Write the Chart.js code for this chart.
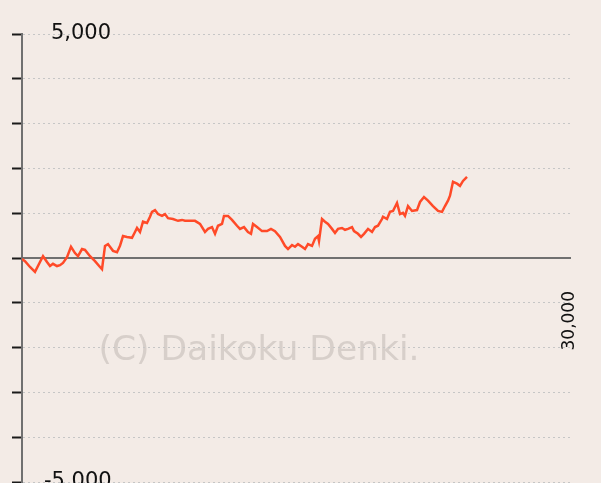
<!DOCTYPE html>
<html><head><meta charset="utf-8">
<script src="https://cdn.jsdelivr.net/npm/chart.js@4"></script>
<style>html,body{margin:0;padding:0;background:#f3ebe6;overflow:hidden;}</style>
</head><body>
<canvas id="c" width="601" height="483"></canvas>
<script>
const spins = [0,164,438,712,985,1150,1369,1533,1697,1916,2080,2245,2464,2682,2901,3066,3285,3449,3723,3996,4270,4380,4544,4708,4982,5201,5365,5529,5748,6022,6186,6296,6460,6624,6843,7007,7117,7281,7445,7664,7828,7993,8266,8540,8759,8923,9197,9471,9745,10018,10183,10401,10566,10730,10949,11058,11277,11496,11770,11934,12153,12372,12536,12646,12865,13139,13412,13631,13850,14124,14398,14562,14781,14945,15110,15328,15493,15657,15876,16040,16204,16259,16423,16588,16752,16971,17135,17299,17518,17683,17847,18066,18175,18394,18559,18723,18942,19161,19325,19489,19708,19763,19982,20146,20310,20529,20694,20858,20967,21132,21351,21624,21789,22007,22226,22500,22774,22993,23157,23321,23431,23595,23814,23978,24143,24361];
const diff = [-20,-70,-200,-310,-90,40,-90,-180,-130,-180,-160,-110,20,250,110,40,200,180,40,-70,-200,-250,270,310,160,130,270,490,470,450,580,670,580,810,780,920,1030,1070,980,940,980,890,870,830,850,830,830,830,760,580,650,690,540,720,760,940,940,850,720,650,690,580,540,760,690,600,600,650,600,470,270,200,290,250,310,250,200,310,270,430,490,380,870,810,760,650,560,650,670,630,650,690,600,540,470,540,650,580,690,720,870,920,870,1030,1050,1230,980,1010,940,1160,1050,1070,1250,1360,1280,1160,1050,1030,1160,1280,1390,1700,1660,1610,1720,1810];
const yTickLabels = {'5000':'\u20045,000','-5000':'-5,000'};
const xTickValues = [30000];
const xTickLabels = {'30000':'30,000'};
const watermark = '(C) Daikoku Denki.';

const bgPlugin = {
  id:'bg',
  beforeDraw(chart){
    const c = chart.ctx;
    c.save();
    c.fillStyle = '#f3ebe6';
    c.fillRect(0,0,chart.width,chart.height);
    c.fillStyle = '#d7cfca';
    c.font = '34.5px "DejaVu Sans"';
    c.textAlign = 'center';
    c.textBaseline = 'middle';
    c.fillText(watermark, 259, 351);
    c.restore();
  }
};

new Chart(document.getElementById('c'), {
  type:'line',
  data:{datasets:[{
    data: spins.map((s,i)=>({x:s,y:diff[i]})),
    borderColor:'#ff4a28', borderWidth:2.5, pointRadius:0, tension:0, fill:false
  }]},
  options:{
    responsive:false, animation:false,
    layout:{padding:{left:0,right:31,top:34,bottom:1}},
    plugins:{legend:{display:false}, tooltip:{enabled:false}},
    scales:{
      x:{
        type:'linear', min:0, max:30000, position:{y:0},
        afterBuildTicks: s => { s.ticks = xTickValues.map(v=>({value:v})); },
        afterFit: s => { s.height = 0; s.paddingLeft = 0; s.paddingRight = 0; s.paddingTop = 0; s.paddingBottom = 0; },
        grid:{display:false, drawTicks:false},
        border:{color:'#707070', width:2},
        ticks:{minRotation:90, maxRotation:90, autoSkip:false, padding:33,
          font:{family:'DejaVu Sans', size:17}, color:'#111',
          callback: v => xTickLabels[String(v)] || ''}
      },
      y:{
        type:'linear', min:-5000, max:5000,
        afterFit: s => { s.width = 22; s.paddingTop = 0; s.paddingBottom = 0; },
        ticks:{stepSize:1000, mirror:true, padding:22, autoSkip:false,
          font:{family:'DejaVu Sans', size:21}, color:'#111',
          callback: v => yTickLabels[String(v)] || ''},
        grid:{color:'#c6c6c6', tickColor:'#1a1a1a', tickLength:10, tickWidth:2, tickBorderDash:[]},
        border:{color:'#707070', width:2, dash:[2,3]}
      }
    }
  },
  plugins:[bgPlugin]
});
</script>
</body></html>
